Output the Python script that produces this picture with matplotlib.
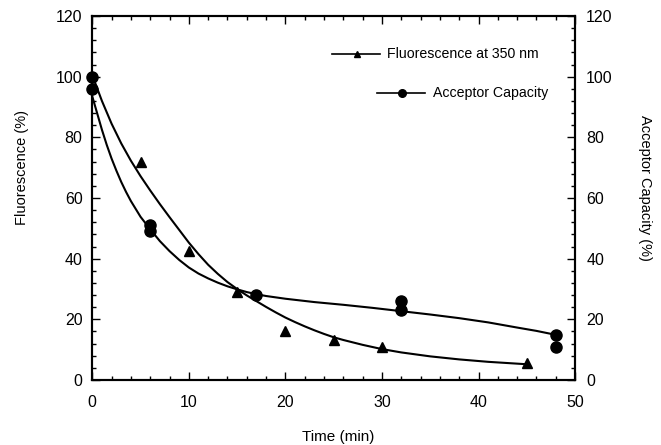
import matplotlib
matplotlib.use("Agg")
import matplotlib.pyplot as plt
from matplotlib.ticker import MultipleLocator

plt.rcParams['font.family'] = ['Liberation Sans', 'DejaVu Sans']

# Measured points
fluor_t = [5, 10, 15, 20, 25, 30, 45]
fluor_v = [72, 42.5, 29, 16, 13.2, 11, 5.5]
acc_t = [0, 0, 6, 6, 17, 32, 32, 48, 48]
acc_v = [100, 96, 51, 49, 28, 26, 23, 15, 11]

# Fitted curves as drawn in the figure
fluor_curve_t = [0, 1, 2, 3, 4, 5, 6, 7, 8, 9, 10, 11, 12, 13, 14, 15, 16, 17, 18, 19,
                 20, 21, 22, 23, 24, 25, 26, 28, 30, 32, 35, 38, 41, 45]
fluor_curve_v = [100.5, 92, 84.5, 78, 72.3, 67.2, 62.5, 58, 53.7, 49.5, 45.3, 41.5, 38, 35,
                 32.3, 30, 27.9, 26, 24.1, 22.3, 20.6, 19.1, 17.7, 16.4, 15.2, 14.1, 13.2,
                 11.6, 10.2, 9.1, 7.8, 6.8, 6.0, 5.2]
acc_curve_t = [0, 0.5, 1, 1.5, 2, 2.5, 3, 3.5, 4, 5, 6, 7, 8, 9, 10, 11, 12, 13, 14, 15,
               16, 17, 18, 20, 23, 26, 29, 32, 35, 38, 41, 44, 46, 48]
acc_curve_v = [93.5, 88, 82.5, 77.5, 73, 69, 65.3, 62, 59, 53.8, 49.7, 45.8, 42.5, 39.6,
               37.1, 35.1, 33.5, 32.1, 30.9, 29.9, 29, 28.3, 27.7, 26.8, 25.7, 24.8, 23.8,
               22.7, 21.6, 20.4, 19, 17.3, 16.2, 14.9]

x_ticks = [0, 10, 20, 30, 40, 50]
y_ticks = [0, 20, 40, 60, 80, 100, 120]

fig = plt.figure(figsize=(6.61, 4.45), dpi=100)
ax = fig.add_axes([0.1396, 0.146, 0.7304, 0.818])
ax2 = ax.twinx()

ax.plot(fluor_curve_t, fluor_curve_v, color='black', lw=1.5, zorder=2)
ax.plot(acc_curve_t, acc_curve_v, color='black', lw=1.5, zorder=2)
ax.plot(fluor_t, fluor_v, linestyle='none', marker='^', color='black', markersize=7.5, clip_on=False, zorder=3)
ax.plot(acc_t, acc_v, linestyle='none', marker='o', color='black', markersize=8, clip_on=False, zorder=3)

for a in (ax, ax2):
    a.set_xlim(0, 50)
    a.set_ylim(0, 120)
    a.set_yticks(y_ticks)
    a.yaxis.set_minor_locator(MultipleLocator(4))
    for s in a.spines.values():
        s.set_linewidth(1.5)

ax.set_xticks(x_ticks)
ax.xaxis.set_minor_locator(MultipleLocator(2))
ax.tick_params(axis='both', which='both', direction='in', top=True, width=1.0)
ax.tick_params(axis='both', which='major', length=6, labelsize=11.5)
ax.tick_params(axis='both', which='minor', length=3)
ax.tick_params(axis='x', which='major', pad=11)
ax.tick_params(axis='y', which='major', pad=7)
ax2.tick_params(axis='y', which='both', direction='in', width=1.0)
ax2.tick_params(axis='y', which='major', length=6, labelsize=11.5, pad=8)
ax2.tick_params(axis='y', which='minor', length=3)

ax.set_xlabel('Time (min)', fontsize=11, va='center')
ax.xaxis.set_label_coords(0.509, -0.157)
ax.set_ylabel('Fluorescence (%)', fontsize=10.5, va='center')
ax.yaxis.set_label_coords(-0.146, 0.585)
ax2.set_ylabel('Acceptor Capacity (%)', fontsize=10.5, rotation=-90, va='center')
ax2.yaxis.set_label_coords(1.145, 0.527)

# Legend entries (hand-placed, as in original)
ax.plot([0.496, 0.596], [0.895, 0.895], transform=ax.transAxes, color='black', lw=1.2, clip_on=False)
ax.plot([0.548], [0.895], transform=ax.transAxes, marker='^', color='black', markersize=5, clip_on=False)
ax.text(0.611, 0.895, 'Fluorescence at 350 nm', transform=ax.transAxes, fontsize=10.2, va='center', ha='left')
ax.plot([0.590, 0.689], [0.789, 0.789], transform=ax.transAxes, color='black', lw=1.2, clip_on=False)
ax.plot([0.641], [0.789], transform=ax.transAxes, marker='o', color='black', markersize=5.5, clip_on=False)
ax.text(0.706, 0.789, 'Acceptor Capacity', transform=ax.transAxes, fontsize=10.2, va='center', ha='left')

fig.savefig('out.png', dpi=100)
